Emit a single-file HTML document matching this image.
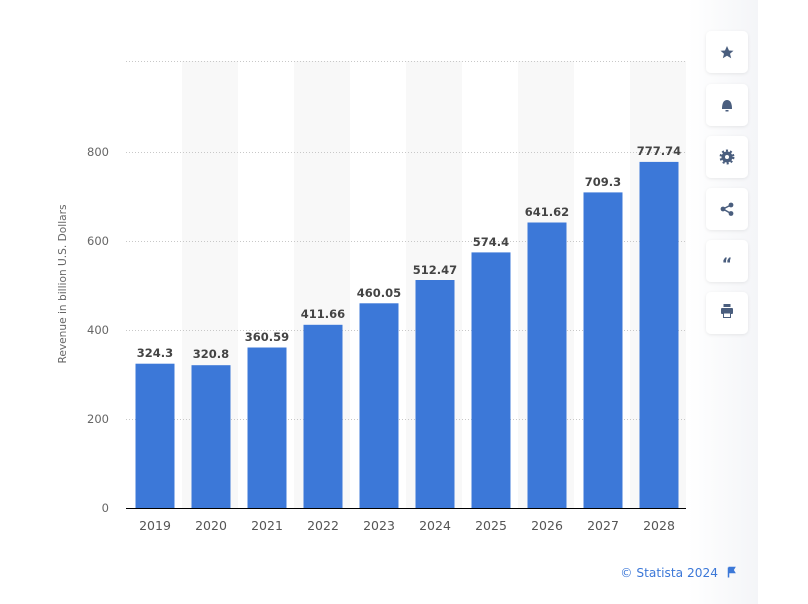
<!DOCTYPE html>
<html><head><meta charset="utf-8"><style>
html,body{margin:0;padding:0;background:#fff;width:808px;height:604px;overflow:hidden;font-family:"DejaVu Sans",sans-serif}
</style></head><body>
<svg width="808" height="604" xmlns="http://www.w3.org/2000/svg" style="position:absolute;left:0;top:0;font-family:'DejaVu Sans',sans-serif">
<defs><linearGradient id="pg" x1="0" x2="1"><stop offset="0" stop-color="#fff"/><stop offset="1" stop-color="#f4f5f8"/></linearGradient>
<filter id="sh" x="-20%" y="-20%" width="140%" height="140%"><feDropShadow dx="0" dy="1" stdDeviation="1.5" flood-color="#000" flood-opacity="0.08"/></filter></defs>
<rect x="688" y="0" width="70" height="604" fill="url(#pg)"/>
<g fill="#f8f8f8">
<rect x="182" y="61" width="56" height="447"/><rect x="294" y="61" width="56" height="447"/><rect x="406" y="61" width="56" height="447"/><rect x="518" y="61" width="56" height="447"/><rect x="630" y="61" width="56" height="447"/>
</g>
<g stroke="#c8c8c8" stroke-dasharray="1,2" stroke-width="1">
<line x1="126" x2="686" y1="61.5" y2="61.5"/><line x1="126" x2="686" y1="152.5" y2="152.5"/><line x1="126" x2="686" y1="241.5" y2="241.5"/><line x1="126" x2="686" y1="330.5" y2="330.5"/><line x1="126" x2="686" y1="419.5" y2="419.5"/>
</g>
<g font-size="11.5" fill="#666" text-anchor="end">
<text x="109" y="156">800</text><text x="109" y="245">600</text><text x="109" y="334">400</text><text x="109" y="423">200</text><text x="109" y="512">0</text>
</g>
<text transform="translate(66,284) rotate(-90)" font-size="10.6" fill="#666" text-anchor="middle">Revenue in billion U.S. Dollars</text>
<g fill="#3c78d8">
<rect x="135.5" y="363.7" width="39" height="144.3"/>
<rect x="191.5" y="365.2" width="39" height="142.8"/>
<rect x="247.5" y="347.5" width="39" height="160.5"/>
<rect x="303.5" y="324.8" width="39" height="183.2"/>
<rect x="359.5" y="303.3" width="39" height="204.7"/>
<rect x="415.5" y="280.0" width="39" height="228.0"/>
<rect x="471.5" y="252.4" width="39" height="255.6"/>
<rect x="527.5" y="222.5" width="39" height="285.5"/>
<rect x="583.5" y="192.4" width="39" height="315.6"/>
<rect x="639.5" y="161.9" width="39" height="346.1"/>
</g>
<line x1="126" x2="686" y1="508.5" y2="508.5" stroke="#000" stroke-width="1"/>
<g font-size="11.5" font-weight="bold" fill="#444" text-anchor="middle">
<text x="155" y="357">324.3</text><text x="211" y="358">320.8</text><text x="267" y="341">360.59</text><text x="323" y="318">411.66</text><text x="379" y="297">460.05</text><text x="435" y="274">512.47</text><text x="491" y="246">574.4</text><text x="547" y="216">641.62</text><text x="603" y="186">709.3</text><text x="659" y="155">777.74</text>
</g>
<g font-size="12.5" fill="#555" text-anchor="middle">
<text x="155" y="530">2019</text><text x="211" y="530">2020</text><text x="267" y="530">2021</text><text x="323" y="530">2022</text><text x="379" y="530">2023</text><text x="435" y="530">2024</text><text x="491" y="530">2025</text><text x="547" y="530">2026</text><text x="603" y="530">2027</text><text x="659" y="530">2028</text>
</g>
<text x="718" y="577" font-size="12.2" fill="#3c78d8" text-anchor="end">© Statista 2024</text>
<path d="M728.5 567.5 v10 M728.5 567.5 h6 l-1.5 2.5 l1.5 2.5 h-6" fill="#3c78d8" stroke="#3c78d8" stroke-width="1.5"/>
<g fill="#fff" filter="url(#sh)">
<rect x="706" y="31" width="42" height="42" rx="5"/><rect x="706" y="84" width="42" height="42" rx="5"/><rect x="706" y="136" width="42" height="42" rx="5"/><rect x="706" y="188" width="42" height="42" rx="5"/><rect x="706" y="240" width="42" height="42" rx="5"/><rect x="706" y="292" width="42" height="42" rx="5"/>
</g>
<g fill="#4a5e7e">
<polygon points="727,46 729,50.5 733.5,50.8 730,53.8 731.2,58.3 727,55.8 722.8,58.3 724,53.8 720.5,50.8 725,50.5"/>
<path d="M722 109 q0-9 5-9 q5 0 5 9 z"/><rect x="725.5" y="110" width="3" height="1.5"/>
<circle cx="727" cy="157" r="5.5"/><circle cx="727" cy="157" r="2" fill="#fff"/>
<g stroke="#4a5e7e" stroke-width="2.5" stroke-dasharray="2,2"><circle cx="727" cy="157" r="6.2" fill="none"/></g>
<circle cx="723" cy="209" r="2.4"/><circle cx="731" cy="205" r="2.4"/><circle cx="731" cy="213.5" r="2.4"/>
<path d="M723 209 L731 205 M723 209 L731 213.5" stroke="#4a5e7e" stroke-width="1.5"/>
<text x="727" y="269" font-size="16" font-weight="bold" text-anchor="middle">“</text>
<rect x="721" y="308" width="12" height="6" rx="1"/><rect x="723.5" y="304" width="7" height="3"/><rect x="723.5" y="313" width="7" height="4.5" stroke="#4a5e7e" fill="#fff"/>
</g>
</svg>
</body></html>
